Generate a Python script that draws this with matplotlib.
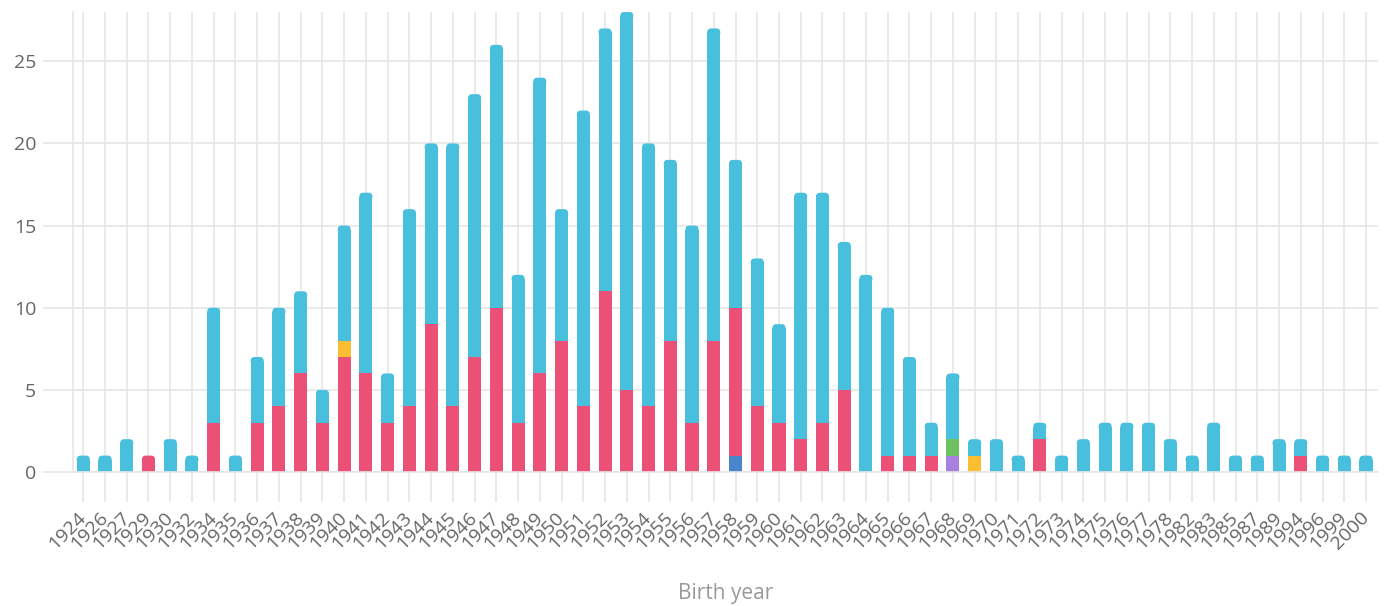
import numpy as np
import matplotlib
matplotlib.use("Agg")
import matplotlib.pyplot as plt
from matplotlib.patches import FancyBboxPatch

plt.rcParams['font.family'] = ['Open Sans', 'DejaVu Sans']

# Birth years (categories)
years = [1924, 1926, 1927, 1929, 1930, 1932, 1934, 1935, 1936, 1937, 1938, 1939,
         1940, 1941, 1942, 1943, 1944, 1945, 1946, 1947, 1948, 1949, 1950, 1951,
         1952, 1953, 1954, 1955, 1956, 1957, 1958, 1959, 1960, 1961, 1962, 1963,
         1964, 1965, 1966, 1967, 1968, 1969, 1970, 1971, 1972, 1973, 1974, 1975,
         1976, 1977, 1978, 1982, 1983, 1985, 1987, 1989, 1994, 1996, 1999, 2000]

# stacked series, bottom to top
navy_counts = [0]*30 + [1] + [0]*29
purple_counts = [0]*40 + [1] + [0]*19
red_counts = [0, 0, 0, 1, 0, 0, 3, 0, 3, 4, 6, 3,
              7, 6, 3, 4, 9, 4, 7, 10, 3, 6, 8, 4,
              11, 5, 4, 8, 3, 8, 9, 4, 3, 2, 3, 5,
              0, 1, 1, 1, 0, 0, 0, 0, 2, 0, 0, 0,
              0, 0, 0, 0, 0, 0, 0, 0, 1, 0, 0, 0]
yellow_counts = [0]*12 + [1] + [0]*28 + [1] + [0]*18
green_counts = [0]*40 + [1] + [0]*19
blue_counts = [1, 1, 2, 0, 2, 1, 7, 1, 4, 6, 5, 2,
               7, 11, 3, 12, 11, 16, 16, 16, 9, 18, 8, 18,
               16, 23, 16, 11, 12, 19, 9, 9, 6, 15, 14, 9,
               12, 9, 6, 2, 4, 1, 2, 1, 1, 1, 2, 3,
               3, 3, 2, 1, 3, 1, 1, 2, 1, 1, 1, 1]

series = [
    (navy_counts, '#4a86cd'),
    (purple_counts, '#a97fe0'),
    (red_counts, '#eb5077'),
    (yellow_counts, '#fbbe33'),
    (green_counts, '#6dc163'),
    (blue_counts, '#48bfdd'),
]

fig = plt.figure(figsize=(13.86, 6.06), dpi=100)
ax = fig.add_axes([0.0527, 0.2211, 0.9415, 0.7591])

x = np.arange(len(years))
totals = np.sum([s[0] for s in series], axis=0)
w = 0.6
rx = 0.18   # corner radius in x units
ry = 0.24   # corner radius in y units

bottom = np.zeros(len(years))
for vals, color in series:
    vals = np.array(vals, dtype=float)
    for i in range(len(years)):
        if vals[i] == 0:
            continue
        y0 = bottom[i]
        y1 = y0 + vals[i]
        if y1 == totals[i]:
            # top segment gets rounded top corners
            ax.bar(x[i], vals[i] - ry, bottom=y0, width=w, color=color, zorder=2)
            ax.add_patch(FancyBboxPatch((x[i] - w/2, y1 - 2*ry), w, 2*ry,
                                        boxstyle=f"round,pad=0,rounding_size={rx}",
                                        mutation_aspect=ry/rx, fc=color, ec='none', zorder=2))
        else:
            ax.bar(x[i], vals[i], bottom=y0, width=w, color=color, zorder=2)
    bottom += vals

ax.set_xlim(-0.47, len(years) - 0.45)
ax.set_ylim(0, 28)
ax.set_yticks([0, 5, 10, 15, 20, 25])
ax.set_xticks(x)
ax.set_xticklabels([str(y) for y in years], rotation=45, ha='right',
                   va='center', rotation_mode='anchor')

gc = '#e6e6e6'
ax.grid(True, color=gc, linewidth=1.2, zorder=0)
ax.set_axisbelow(True)
ax.tick_params(axis='both', length=21.6, width=1.2, color=gc, labelcolor='#666666',
               labelsize=14)
ax.tick_params(axis='y', pad=5)
ax.tick_params(axis='x', pad=9)
for s in ['top', 'right']:
    ax.spines[s].set_visible(False)
for s in ['left', 'bottom']:
    ax.spines[s].set_color(gc)
    ax.spines[s].set_linewidth(1.2)

ax.set_xlabel('Birth year', fontsize=15, color='#999999', labelpad=22)

fig.savefig('out.png', dpi=100)
